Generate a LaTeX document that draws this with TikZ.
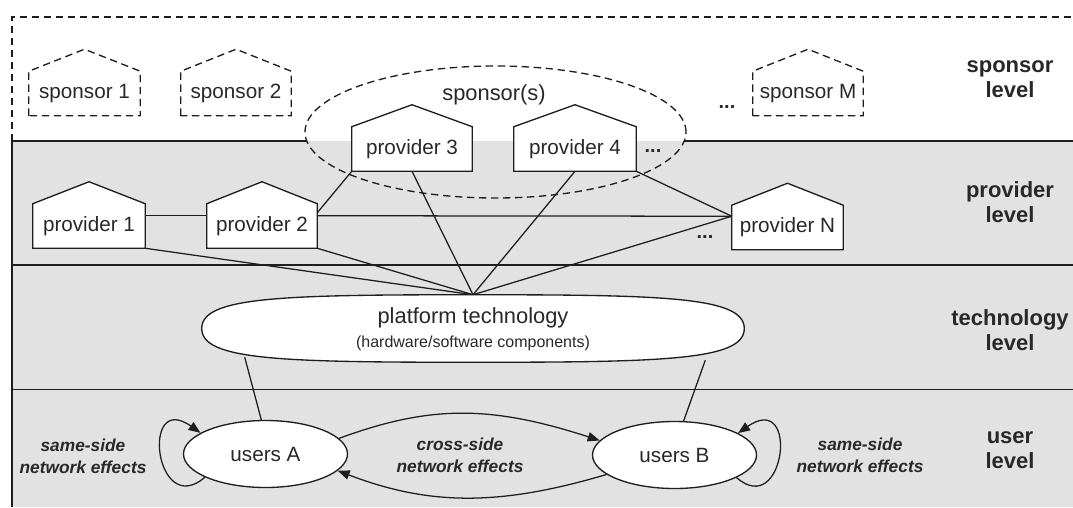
\documentclass[tikz,border=0pt]{standalone}
\usepackage{fontspec}
\setmainfont{Liberation Sans}
\usetikzlibrary{calc,shapes.geometric,arrows.meta}
\pgfdeclarelayer{background}
\pgfsetlayers{background,main}
\definecolor{bgray}{RGB}{226,226,227}
\definecolor{ln}{RGB}{30,30,30}
\definecolor{txt}{RGB}{40,40,40}
\newcommand{\housepath}[2][]{\draw[housedraw,#1] (#2.south west) -- (#2.north west) -- ($(#2.north)+(0,-22)$) -- (#2.north east) -- (#2.south east) -- cycle;}
\begin{document}
\begin{tikzpicture}[x=0.75pt,y=-0.75pt,
  lbl/.style={font=\fontsize{15.5}{18}\selectfont, text=txt},
  housebox/.style={lbl, inner sep=0pt, minimum height=33pt},
  housedraw/.style={draw=ln, line width=1pt, fill=white, line join=miter},
  spdash/.style={dash pattern=on 5.5pt off 3.5pt},
  level/.style={font=\bfseries\fontsize{16.5}{18.75}\selectfont, align=center, text=txt},
  effect/.style={font=\bfseries\itshape\fontsize{13}{16.5}\selectfont, align=center, text=txt},
  dots/.style={font=\bfseries\fontsize{15}{17}\selectfont, text=txt, inner sep=1pt},
  conn/.style={draw=ln, line width=0.95pt},
  arr/.style={conn, -{Triangle[length=9pt,width=7pt]}},
  userell/.style={lbl, ellipse, draw=ln, line width=1pt, fill=white, minimum width=123pt, minimum height=50.25pt, inner sep=0pt}
]
\useasboundingbox (0,0) rectangle (1073,507);

% ---------- nodes ----------
\node[housebox, minimum width=83.25pt] (s1) at (84.5,93.5) {sponsor 1};
\node[housebox, minimum width=82.5pt] (s2) at (236,93.5) {sponsor 2};
\node[housebox, minimum width=82.5pt] (sM) at (808,93.5) {sponsor M};
\node[dots] (dM) at (727,107) {...};
\node[lbl, font=\fontsize{16.4}{19}\selectfont] (spl) at (494,95) {sponsor(s)};

\node[housebox, minimum width=84pt] (p1) at (89,226) {provider 1};
\node[housebox, minimum width=82.5pt] (p2) at (262,226) {provider 2};
\node[housebox, minimum width=90pt] (p3) at (412,149) {provider 3};
\node[housebox, minimum width=91.5pt] (p4) at (575,149) {provider 4};
\node[housebox, minimum width=83.25pt] (pN) at (787.5,227.5) {provider N};
\node[dots] (d4) at (653,151) {...};
\node[dots] (dN) at (705,237) {...};

\node[minimum width=406.5pt, minimum height=50.25pt, inner sep=0pt] (plat) at (473,328.5) {};
\node[font=\fontsize{16.4}{19}\selectfont, text=txt] (pt1) at (473,318) {platform technology};
\node[font=\fontsize{12}{14}\selectfont, text=txt] (pt2) at (473,343) {(hardware/software components)};

\node[userell] (ua) at (265.5,454) {users A};
\node[userell] (ub) at (674.5,455) {users B};

\node[level] (lv1) at (1010,79.5) {sponsor\\level};
\node[level] (lv2) at (1010,202.5) {provider\\level};
\node[level] (lv3) at (1010,330.5) {technology\\level};
\node[level] (lv4) at (1010,450) {user\\level};

\node[effect] (e1) at (83,456) {same-side\\network effects};
\node[effect] (e2) at (460,455) {cross-side\\network effects};
\node[effect] (e3) at (860,455) {same-side\\network effects};

% ---------- background drawing ----------
\begin{pgfonlayer}{background}
\fill[bgray] (12,141) rectangle (1073,507);
\draw[ln, line width=1pt] (12,507) -- (12,141) -- (307,141);
\draw[ln, line width=1pt] (684,141) -- (1073,141);
\draw[ln, line width=1pt, spdash] (12,141) -- (12,17) -- (1073,17);
\draw[ln, line width=1pt] (12,265) -- (1073,265);
\draw[ln, line width=1pt] (12,389.5) -- (1073,389.5);

\node[draw=ln, line width=1pt, spdash, ellipse, minimum width=285.75pt, minimum height=99pt, inner sep=0pt] (spg) at (495.5,132) {};

% provider connectors
\draw[conn] ($(p1.north east)+(0,12)$) -- ($(p2.north west)+(0,12)$);
\draw[conn] ($(p2.north east)+(0,12)$) -- ($(pN.north west)+(0,11)$);
\draw[conn] ($(p2.north east)+(0,9)$) -- (p3.south west);
\draw[conn] (p3.south) -- (plat.north);
\draw[conn] (p4.south) -- (plat.north);
\draw[conn] (p4.south east) -- ($(pN.north west)+(0,11)$);
\draw[conn] (p1.south east) -- (plat.north);
\draw[conn] (p2.south east) -- (plat.north);
\draw[conn] (plat.north) -- ($(pN.north west)+(0,11)$);

% platform to users
\draw[conn] ($(plat.south west)+(43,-5)$) -- (ua.97);
\draw[conn] ($(plat.south east)+(-39,-2)$) -- (ub.75);

% platform shape
\draw[draw=ln, line width=1pt, fill=white] (plat.west) .. controls +(0,-31.5) and +(-193,0) .. (plat.north) .. controls +(193,0) and +(0,-31.5) .. (plat.east) .. controls +(0,31.5) and +(193,0) .. (plat.south) .. controls +(-193,0) and +(0,31.5) .. (plat.west) -- cycle;

% network effects
\draw[arr] (ua.201) .. controls (155,520) and (140,390) .. (ua.162);
\draw[arr] (ub.340) .. controls (785,520) and (800,390) .. (ub.19);
\draw[arr] (ua.12) .. controls (430,405) and (490,405) .. (ub.169);
\draw[arr] (ub.196) .. controls (500,506) and (430,506) .. (ua.347);

% houses
\housepath{p1}
\housepath{p2}
\housepath{p3}
\housepath{p4}
\housepath{pN}
\housepath[spdash]{s1}
\housepath[spdash]{s2}
\housepath[spdash]{sM}
\end{pgfonlayer}
\end{tikzpicture}
\end{document}
